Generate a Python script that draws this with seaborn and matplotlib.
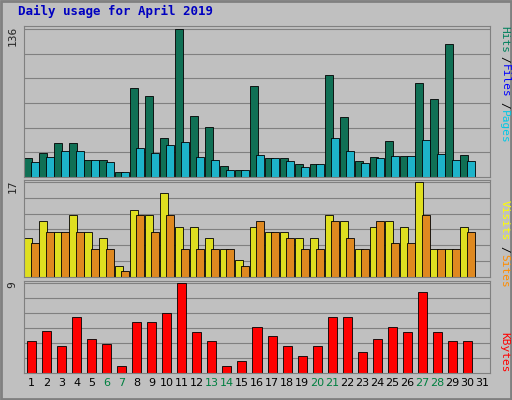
import matplotlib
matplotlib.use("Agg")
import matplotlib.pyplot as plt
import seaborn as sns
import pandas as pd
import numpy as np

days = list(range(1, 32))
hits = [17,22,31,31,16,16,5,82,74,36,136,56,46,10,6,84,17,17,12,12,94,55,15,18,33,19,86,72,122,20,0]
files = [14,18,24,24,16,14,5,27,22,29,32,18,16,6,6,20,17,15,9,12,36,24,13,17,19,19,34,21,16,15,0]
visits = [7,10,8,11,8,7,2,12,11,15,9,9,7,5,3,9,8,8,7,7,11,10,5,9,10,9,17,5,5,9,0]
sites = [6,8,8,8,5,5,1,11,8,11,5,5,5,5,2,10,8,7,5,5,10,7,5,10,6,6,11,5,5,8,0]
kbytes = [3.2,4.2,2.7,5.6,3.4,2.9,0.7,5.1,5.1,6.0,9.0,4.1,3.2,0.7,1.2,4.6,3.7,2.7,1.7,2.7,5.6,5.6,2.1,3.4,4.6,4.1,8.1,4.1,3.2,3.2,0]
weekend = [6,7,13,14,20,21,27,28]

sns.set_style("white")
plt.rcParams['font.family'] = ['DejaVu Sans Mono', 'DejaVu Sans']
fig = plt.figure(figsize=(5.12, 4.0), dpi=100, facecolor="#c0c0c0")
L, W = 24/512, 466/512
ax1 = fig.add_axes([L, 1-177/400, W, 151/400])
ax2 = fig.add_axes([L, 1-277/400, W, 97/400])
ax3 = fig.add_axes([L, 1-373/400, W, 92/400])

def style(ax, ymax, label):
    ax.set_facecolor("#c0c0c0")
    ax.set_xlim(-0.5, 30.5)
    ax.set_ylim(0, ymax * 1.02)
    ax.set_yticks(np.linspace(0, ymax, 7)[1:])
    ax.set_yticklabels([])
    ax.grid(axis="y", color="#808080", lw=0.8)
    ax.set_axisbelow(True)
    ax.tick_params(length=0)
    ax.set_xlabel(""); ax.set_ylabel("")
    if ax.get_legend(): ax.get_legend().remove()
    for s in ax.spines.values():
        s.set_color("#808080")
    ax.text(-0.025, 1.0, label, transform=ax.transAxes, rotation=90,
            ha="center", va="top", fontsize=8)

df1 = pd.DataFrame({"day": days*2, "v": hits+files, "s": ["Hits"]*31+["Files"]*31})
sns.barplot(data=df1, x="day", y="v", hue="s", palette={"Hits": "#00805c", "Files": "#00c8e6"},
            ax=ax1, dodge=True, width=0.85, edgecolor="black", linewidth=0.6, gap=-0.25)
style(ax1, 136, "136"); ax1.set_xticks([])

df2 = pd.DataFrame({"day": days*2, "v": visits+sites, "s": ["Visits"]*31+["Sites"]*31})
sns.barplot(data=df2, x="day", y="v", hue="s", palette={"Visits": "#ffff00", "Sites": "#ff8c00"},
            ax=ax2, dodge=True, width=0.85, edgecolor="black", linewidth=0.6, gap=-0.25)
style(ax2, 17, "17"); ax2.set_xticks([])

df3 = pd.DataFrame({"day": days, "v": kbytes})
sns.barplot(data=df3, x="day", y="v", color="#ff0000", ax=ax3, width=0.6,
            edgecolor="black", linewidth=0.6, saturation=1)
style(ax3, 9, "9")
ax3.set_xticks(range(31))
ax3.set_xticklabels([str(d) for d in days], fontsize=8, family="DejaVu Sans")
for t, d in zip(ax3.get_xticklabels(), days):
    t.set_color("#008040" if d in weekend else "black")

fig.text(0.035, 0.962, "Daily usage for April 2019", color="#0000c0", fontsize=9, weight="bold")
def rlabel(y, parts):
    for txt, col, off in parts:
        fig.text(0.985, y - off, txt, color=col, rotation=270, fontsize=8, ha="center", va="top")
rlabel(0.935, [("Hits", "#00805c", 0.0), ("/", "black", 0.075), ("Files", "#0000ff", 0.095), ("/", "black", 0.19), ("Pages", "#00c8e6", 0.21)])
rlabel(0.5, [("Visits", "#ffff00", 0.0), ("/", "black", 0.115), ("Sites", "#ff8c00", 0.135)])
fig.text(0.985, 0.07, "KBytes", color="#ff0000", rotation=270, fontsize=8, ha="center", va="bottom")
fig.patches.append(plt.Rectangle((0.002, 0.002), 0.996, 0.996, transform=fig.transFigure,
                                 fill=False, edgecolor="#808080", lw=2))
fig.savefig("out.png", dpi=100, facecolor=fig.get_facecolor())
